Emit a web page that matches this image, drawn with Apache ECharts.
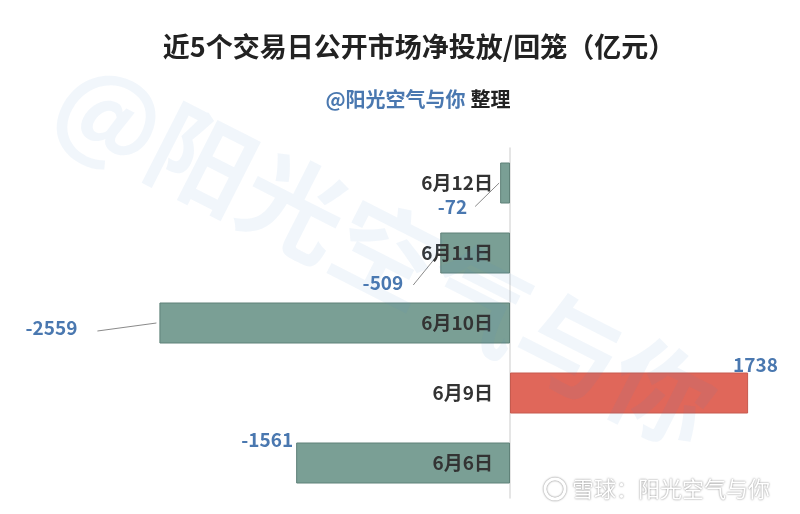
<!DOCTYPE html>
<html>
<head>
<meta charset="utf-8">
<script src="https://cdn.jsdelivr.net/npm/echarts@6/dist/echarts.min.js"></script>
<style>html,body{margin:0;padding:0;background:#fff;}#main{width:800px;height:514px;}</style>
</head>
<body>
<div id="main"></div>
<script>
// Data
const categories = ['6月6日', '6月9日', '6月10日', '6月11日', '6月12日'];
const values = [-1561, 1738, -2559, -509, -72];
const titleText = '近5个交易日公开市场净投放/回笼（亿元）';
const authorText = '@阳光空气与你';
const noteText = '整理';
const watermarkText = '@阳光空气与你';
const footerText = '雪球：阳光空气与你';

// Label placement (style only): shift of value label, and leader line start relative to bar end
const labelShift = [
  { dx: 2, dy: -23.5, line: null },
  { dx: -20, dy: -28.5, line: null },
  { dx: -77, dy: 5, line: [-62, 8, -3] },
  { dx: -32, dy: 30, line: [-27, 32, -1] },
  { dx: -28, dy: 23.5, line: [-25, 23.5, -1] }
];

const FONT = '"Noto Sans CJK SC", "Noto Sans", sans-serif';
const TEAL = '#7a9f95', TEAL_B = '#5f8178';
const RED = '#e0675a', RED_B = '#c65a4e';
const BLUE = '#4a78b0';

const seriesData = values.map((v, i) => ({
  value: v,
  itemStyle: v >= 0 ? { color: RED, borderColor: RED_B } : { color: TEAL, borderColor: TEAL_B },
  label: { position: v >= 0 ? 'right' : 'left' }
}));

const leaderData = [];
values.forEach((v, i) => { if (labelShift[i].line) leaderData.push([v, i]); });

const chart = echarts.init(document.getElementById('main'), null, { renderer: 'canvas' });
chart.setOption({
  animation: false,
  backgroundColor: '#fff',
  title: [
    {
      text: titleText, left: 419, top: 33, textAlign: 'center', padding: 0,
      textStyle: { fontFamily: FONT, fontSize: 27, fontWeight: 'bold', color: '#222' }
    },
    {
      text: '{a|' + authorText + '} {b|' + noteText + '}', left: 418, top: 89, textAlign: 'center', padding: 0,
      textStyle: {
        rich: {
          a: { fontFamily: FONT, fontSize: 20, color: BLUE },
          b: { fontFamily: FONT, fontSize: 20, color: '#222' }
        }
      }
    }
  ],
  grid: { left: 99, right: 16, top: 148, bottom: 16, containLabel: false },
  xAxis: {
    type: 'value', min: -3000, max: 2000, show: false, splitLine: { show: false }
  },
  yAxis: {
    type: 'category', data: categories,
    axisLine: { show: true, onZero: true, lineStyle: { color: '#dddddd', width: 1.5 } },
    axisTick: { show: false },
    axisLabel: { show: false },
    splitLine: { show: false }
  },
  series: [
    {
      type: 'bar',
      data: seriesData,
      barWidth: 41,
      itemStyle: { borderWidth: 1 },
      label: {
        show: true, distance: 5,
        fontFamily: FONT, fontSize: 19, fontWeight: 'bold', color: BLUE
      },
      labelLayout: function (p) {
        const s = labelShift[p.dataIndex];
        return { dx: s.dx, dy: s.dy };
      }
    },
    {
      type: 'scatter',
      data: categories.map((c, i) => [0, i]),
      symbolSize: 0,
      z: 10,
      silent: true,
      itemStyle: { opacity: 1 },
      label: {
        show: true, position: 'left', distance: 17, opacity: 1,
        formatter: p => categories[p.data[1]],
        fontFamily: FONT, fontSize: 19, fontWeight: 'bold', color: '#333'
      }
    },
    {
      type: 'custom',
      data: leaderData,
      silent: true,
      z: 9,
      renderItem: function (params, api) {
        const v = api.value(0), c = api.value(1);
        const p = api.coord([v, c]);
        const s = labelShift[c].line;
        return {
          type: 'line',
          shape: { x1: p[0] + s[0], y1: p[1] + s[1], x2: p[0] + s[2], y2: p[1] },
          style: { stroke: '#8a8a8a', lineWidth: 1 }
        };
      }
    }
  ],
  graphic: [
    {
      type: 'text', x: 386, y: 253, rotation: -0.47, z: 100, silent: true,
      style: {
        text: watermarkText, fontFamily: FONT, fontSize: 103, fontWeight: 'bold',
        fill: 'rgba(74,134,200,0.08)', textAlign: 'center', textVerticalAlign: 'middle'
      }
    },
    {
      type: 'circle', x: 555, y: 489, z: 100, silent: true,
      shape: { r: 10 },
      style: { fill: 'none', stroke: '#fff', lineWidth: 3, shadowColor: 'rgba(0,0,0,0.55)', shadowBlur: 2 }
    },
    {
      type: 'text', x: 572, y: 489, z: 100, silent: true,
      style: {
        text: footerText, fontFamily: FONT, fontSize: 22, fill: '#fff',
        textVerticalAlign: 'middle',
        textShadowColor: 'rgba(0,0,0,0.55)', textShadowBlur: 2
      }
    }
  ]
});
</script>
</body>
</html>
